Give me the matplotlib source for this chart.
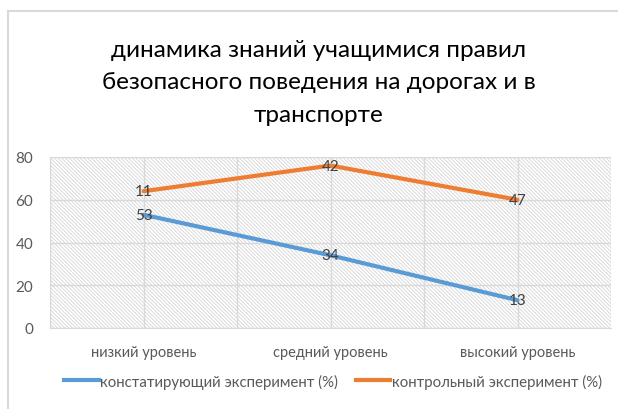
import matplotlib
matplotlib.use("Agg")
from matplotlib import pyplot as plt
from matplotlib.lines import Line2D
from matplotlib.patches import Rectangle

plt.rcParams['font.family'] = ['Lato', 'DejaVu Sans']
plt.rcParams['hatch.linewidth'] = 0.6
plt.rcParams['hatch.color'] = '#d4d4d4'

categories = ["низкий уровень", "средний уровень", "высокий уровень"]
series_names = ["констатирующий эксперимент (%)", "контрольный эксперимент (%)"]
constat = [53, 34, 13]
control = [11, 42, 47]
title = "динамика знаний учащимися правил\nбезопасного поведения на дорогах и в\nтранспорте"

BLUE = "#5b9bd5"
ORANGE = "#ed7d31"
GRID = "#d9d9d9"
TEXT = "#595959"

# stacked line chart: second series drawn on top of the first
control_stacked = [a + b for a, b in zip(constat, control)]
xs = list(range(len(categories)))

fig = plt.figure(figsize=(6.18, 4.10), dpi=100)
fig.patches.append(Rectangle((8 / 618, -0.1), 1.1, 1.1 - 12 / 410, transform=fig.transFigure,
                             fill=False, edgecolor=GRID, linewidth=1.5))

ax = fig.add_axes([50 / 618, 81 / 410, 561 / 618, 171 / 410])
ax.patch.set_facecolor("white")
ax.add_patch(Rectangle((0, 0), 1, 1, transform=ax.transAxes, facecolor="white",
                       edgecolor="#d4d4d4", linewidth=0, hatch="\\" * 9, zorder=0))

ax.set_xlim(-0.5, 2.5)
ax.set_ylim(0, 80)
ax.set_yticks([0, 20, 40, 60, 80])
ax.set_xticks(xs)
ax.set_xticklabels(categories)
ax.set_xticks([-0.5, 0.5, 1.5, 2.5], minor=True)
ax.grid(True, axis="y", color=GRID, linewidth=1)
ax.grid(True, axis="x", which="both", color=GRID, linewidth=1)
ax.set_axisbelow(True)
for s in ax.spines.values():
    s.set_visible(False)
ax.spines["bottom"].set_visible(True)
ax.spines["bottom"].set_color(GRID)
ax.tick_params(axis="y", which="both", length=0, colors=TEXT, labelsize=11, pad=12)
ax.tick_params(axis="x", which="both", length=0, colors=TEXT, labelsize=10.5, pad=12)

ax.plot(xs, constat, color=BLUE, linewidth=3, solid_capstyle="round", zorder=3)
ax.plot(xs, control_stacked, color=ORANGE, linewidth=3, solid_capstyle="round", zorder=3)

for x, y, v in zip(xs, constat, constat):
    ax.text(x, y, str(v), ha="center", va="center", fontsize=11, color="#404040", zorder=4)
for x, y, v in zip(xs, control_stacked, control):
    ax.text(x, y, str(v), ha="center", va="center", fontsize=11, color="#404040", zorder=4)

fig.text(319 / 618, 1 - 83 / 410, title, ha="center", va="center", fontsize=17.5, color="black",
         linespacing=1.65)

handles = [Line2D([], [], color=BLUE, linewidth=3), Line2D([], [], color=ORANGE, linewidth=3)]
fig.legend(handles, series_names, loc="center", bbox_to_anchor=(333 / 618, 28 / 410), ncol=2, frameon=False,
           fontsize=10.8, labelcolor=TEXT, handlelength=2.3, handletextpad=0.1, columnspacing=1.2,
           borderpad=0, borderaxespad=0)

fig.savefig("out.png", dpi=100)
